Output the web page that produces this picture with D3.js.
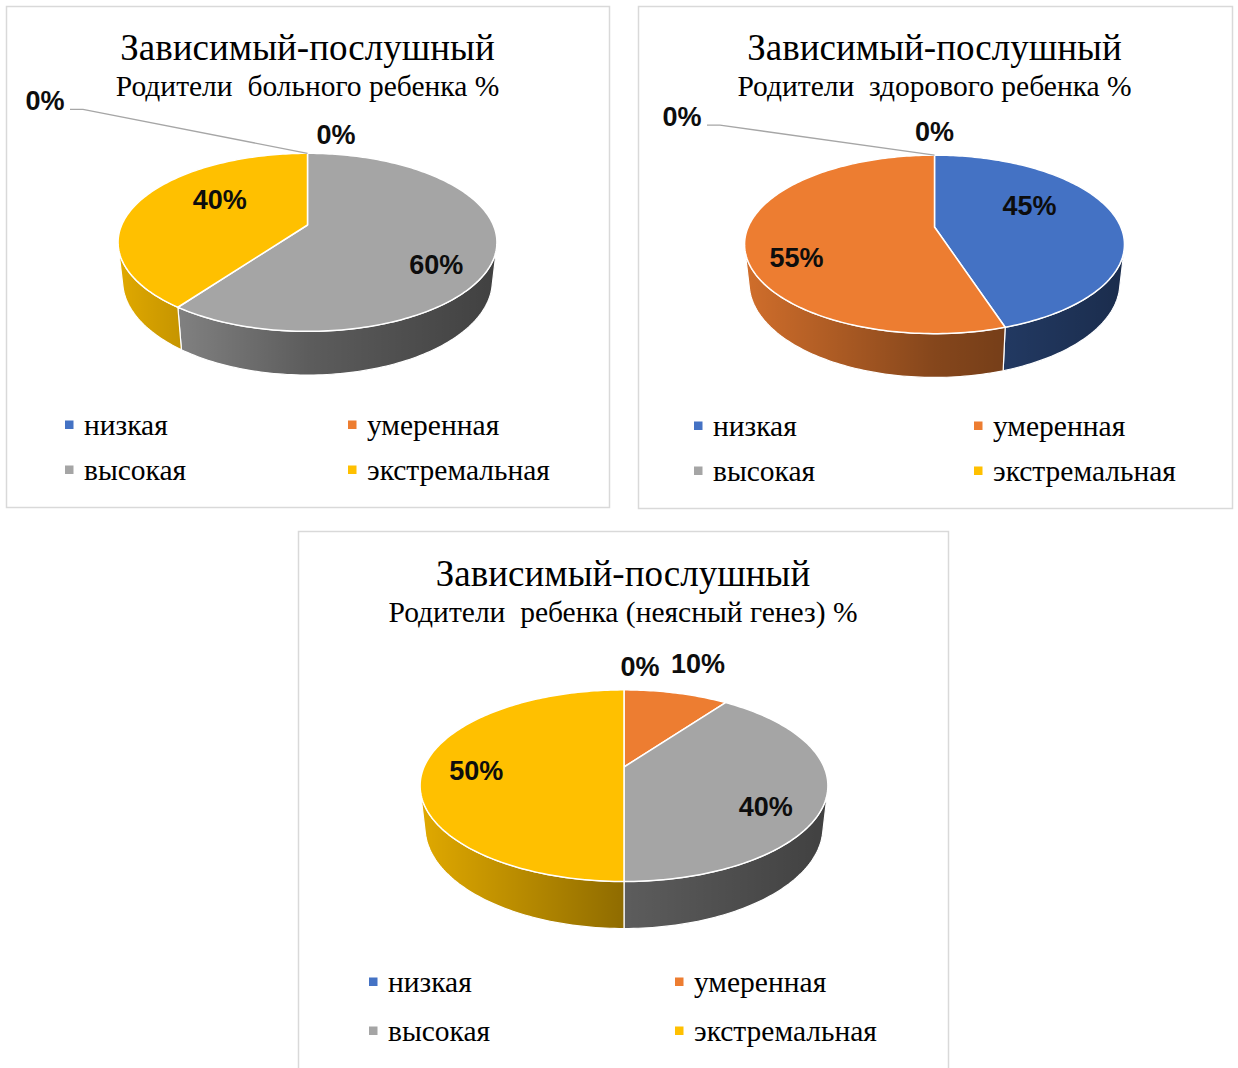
<!DOCTYPE html>
<html lang="ru">
<head>
<meta charset="utf-8">
<script src="https://cdn.jsdelivr.net/npm/d3@7"></script>
<style>
  html, body { margin: 0; padding: 0; background: #ffffff; }
  svg { display: block; }
</style>
</head>
<body>
<svg id="chart" width="1238" height="1068"></svg>
<script>
// Categories and palette shared by the three pies
const categories = ["низкая", "умеренная", "высокая", "экстремальная"];
const colors = ["#4472c4", "#ed7d31", "#a5a5a5", "#ffc000"];

// Percent values per group
const sickValues = [0, 0, 60, 40];
const healthyValues = [45, 55, 0, 0];
const unclearValues = [0, 10, 40, 50];

const mainTitle = "Зависимый-послушный";
const subTitles = [
  "Родители  больного ребенка %",
  "Родители  здорового ребенка %",
  "Родители  ребенка (неясный генез) %"
];

// Layout of each panel: frame, pie centre/scale, legend and label placement
const panels = [
  {
    values: sickValues, sub: subTitles[0],
    frame: { x: 6, y: 6, w: 603, h: 501 },
    cx: 307.5, cy: 225, s: 185.8,
    titleX: 307.5, titleY: 60, subY: 96,
    legendX: [65, 348], legendY: [435, 480],
    // per slice: radius factor in the top ellipse, pixel nudge, leader flag
    labels: [
      { rf: 1, nudge: [-262.5, -53], leader: true },
      { rf: 1, nudge: [28.5, -19] },
      { rf: 0.72, nudge: [-1, 2] },
      { rf: 0.72, nudge: [42, -23] }
    ]
  },
  {
    values: healthyValues, sub: subTitles[1],
    frame: { x: 638, y: 6, w: 594, h: 502 },
    cx: 934.5, cy: 227, s: 186.3,
    titleX: 934.5, titleY: 60, subY: 96,
    legendX: [694, 974], legendY: [436, 481],
    labels: [
      { rf: 0.72, nudge: [-40, -29] },
      { rf: 0.72, nudge: [-3, 3] },
      { rf: 1, nudge: [0, -24] },
      { rf: 1, nudge: [-252.5, -39], leader: true }
    ]
  },
  {
    values: unclearValues, sub: subTitles[2],
    frame: { x: 298, y: 531, w: 650, h: 560 },
    cx: 624, cy: 767, s: 200,
    titleX: 623, titleY: 586, subY: 622,
    legendX: [369, 675], legendY: [992, 1041],
    labels: [
      { rf: 1, nudge: [16, -24] },
      { rf: 1, nudge: [11, -31] },
      { rf: 0.72, nudge: [2, -1] },
      { rf: 0.72, nudge: [-1, -15.5] }
    ]
  }
];

// Perspective camera for the 3D discs
const tilt = 27.45 * Math.PI / 180;
const sinT = Math.sin(tilt), cosT = Math.cos(tilt);
const dist = 5.135 * cosT;     // camera distance (disc radius = 1)
const thick = 0.235;           // disc thickness

const svg = d3.select("#chart");
const defs = svg.append("defs");

function projector(p) {
  // theta clockwise from the far side, r radial fraction, y height (0 top, -thick bottom)
  return function (theta, r, y) {
    const x3 = r * Math.sin(theta), z3 = -r * Math.cos(theta);
    const d = dist - (y * sinT + z3 * cosT);
    const X = x3 * dist / d;
    const Yup = (y * cosT - z3 * sinT) * dist / d;
    return [p.cx + p.s * X, p.cy - p.s * Yup];
  };
}

const pie = d3.pie().sort(null).value(d => d).startAngle(0).endAngle(2 * Math.PI);
const line = d3.line();
const frontMin = Math.acos(-1 / (dist * cosT));
const frontMax = 2 * Math.PI - frontMin;

const serif = "'Liberation Serif', 'Times New Roman', serif";

panels.forEach((p, pi) => {
  const g = svg.append("g");
  const proj = projector(p);

  // frame
  g.append("rect")
    .attr("x", p.frame.x + 0.5).attr("y", p.frame.y + 0.5)
    .attr("width", p.frame.w).attr("height", p.frame.h)
    .attr("fill", "#ffffff").attr("stroke", "#d9d9d9").attr("stroke-width", 1.5);

  // titles
  g.append("text")
    .attr("x", p.titleX).attr("y", p.titleY)
    .attr("text-anchor", "middle")
    .attr("font-family", serif)
    .attr("font-size", 37).attr("fill", "#000")
    .text(mainTitle);
  g.append("text")
    .attr("x", p.titleX).attr("y", p.subY)
    .attr("text-anchor", "middle")
    .attr("font-family", serif)
    .attr("font-size", 29.5).attr("fill", "#000")
    .style("white-space", "pre")
    .text(p.sub);

  const arcs = pie(p.values);

  // ellipse of the top face in screen space (used for label anchors)
  const top = proj(0, 1, 0), bottom = proj(Math.PI, 1, 0);
  const ell = {
    cx: p.cx, cy: (top[1] + bottom[1]) / 2,
    ry: (bottom[1] - top[1]) / 2, rx: p.s * 1.0197
  };

  // side shading: darker towards the right
  const gradId = "shade" + pi;
  const grad = defs.append("linearGradient").attr("id", gradId)
    .attr("gradientUnits", "userSpaceOnUse")
    .attr("x1", ell.cx - ell.rx).attr("x2", ell.cx + ell.rx)
    .attr("y1", 0).attr("y2", 0);
  grad.append("stop").attr("offset", 0).attr("stop-color", "#000").attr("stop-opacity", 0.12);
  grad.append("stop").attr("offset", 0.5).attr("stop-color", "#000").attr("stop-opacity", 0.44);
  grad.append("stop").attr("offset", 1).attr("stop-color", "#000").attr("stop-opacity", 0.61);

  const rimPts = (a0, a1, y) => {
    const n = Math.max(2, Math.ceil((a1 - a0) / 0.02));
    return d3.range(n + 1).map(i => proj(a0 + (a1 - a0) * i / n, 1, y));
  };

  // side walls (front half only)
  arcs.forEach((a, i) => {
    if (a.value === 0) return;
    const s0 = Math.max(a.startAngle, frontMin), s1 = Math.min(a.endAngle, frontMax);
    if (s1 <= s0) return;
    const pts = rimPts(s0, s1, 0).concat(rimPts(s0, s1, -thick).reverse());
    const dPath = line(pts) + "Z";
    g.append("path").attr("d", dPath).attr("fill", colors[i]);
    g.append("path").attr("d", dPath).attr("fill", `url(#${gradId})`);
    g.append("path").attr("d", dPath).attr("fill", "none")
      .attr("stroke", "#ffffff").attr("stroke-width", 1.2).attr("stroke-linejoin", "round");
  });

  // top faces
  arcs.forEach((a, i) => {
    if (a.value === 0) return;
    const pts = [proj(0, 0, 0)].concat(rimPts(a.startAngle, a.endAngle, 0));
    g.append("path").attr("d", line(pts) + "Z")
      .attr("fill", colors[i])
      .attr("stroke", "#ffffff").attr("stroke-width", 1.5)
      .attr("stroke-linejoin", "round");
  });

  // data labels
  arcs.forEach((a, i) => {
    const cfg = p.labels[i];
    const mid = (a.startAngle + a.endAngle) / 2;
    const ax = ell.cx + cfg.rf * ell.rx * Math.sin(mid);
    const ay = ell.cy - cfg.rf * ell.ry * Math.cos(mid);
    const lx = ax + cfg.nudge[0], ly = ay + cfg.nudge[1];
    if (cfg.leader) {
      const rim = proj(mid, 1, 0);
      g.append("path")
        .attr("d", line([[lx + 25, ly + 9], [lx + 38, ly + 9], rim]))
        .attr("fill", "none").attr("stroke", "#a6a6a6").attr("stroke-width", 1.3);
    }
    g.append("text")
      .attr("x", lx).attr("y", ly).attr("dy", "0.36em")
      .attr("text-anchor", "middle")
      .attr("font-family", "'Liberation Sans', Arial, sans-serif")
      .attr("font-weight", "bold").attr("font-size", 27)
      .attr("fill", "#0d0d0d")
      .text(Math.round(a.value) + "%");
  });

  // legend, two columns
  categories.forEach((c, i) => {
    const col = i % 2, row = Math.floor(i / 2);
    const mx = p.legendX[col], by = p.legendY[row];
    g.append("rect")
      .attr("x", mx).attr("y", by - 14.5).attr("width", 8.5).attr("height", 8.5)
      .attr("fill", colors[i]);
    g.append("text")
      .attr("x", mx + 19).attr("y", by)
      .attr("font-family", serif)
      .attr("font-size", 29.5).attr("fill", "#000")
      .text(c);
  });
});
</script>
</body>
</html>
